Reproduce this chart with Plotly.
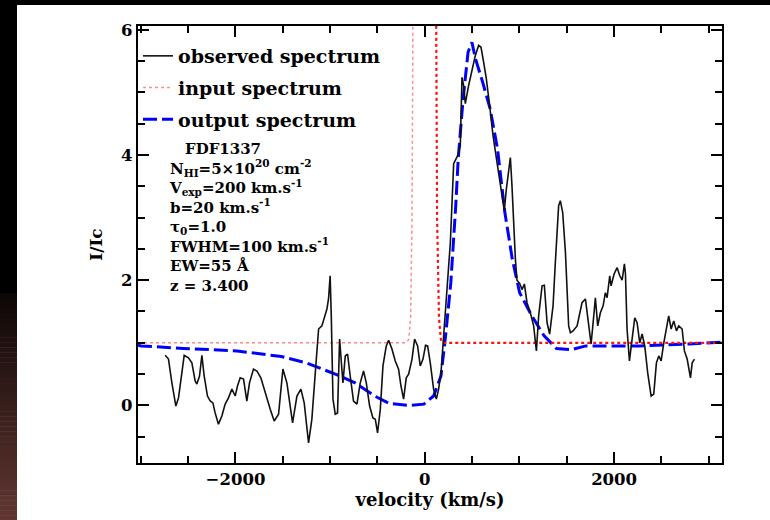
import plotly.graph_objects as go

# ---------------- data ----------------
obs_v = [-2743, -2708, -2672, -2630, -2602, -2567, -2542, -2497, -2461, -2426, -2408, -2380,
         -2355, -2331, -2296, -2267, -2239, -2215, -2180, -2144, -2109, -2074, -2038, -2003,
         -1979, -1950, -1915, -1880, -1852, -1810, -1774, -1732, -1686, -1633, -1591, -1545,
         -1499, -1457, -1397, -1351, -1309, -1274, -1228, -1193, -1157, -1122, -1087, -1052,
         -1034, -1017, -1000, -988, -970, -946, -922, -900, -883, -865, -840, -816, -788,
         -753, -717, -682, -647, -618, -583, -548, -523, -499, -470, -442, -407, -382, -347,
         -312, -277, -252, -224, -196, -171, -135, -108, -76, -48, -19, 8, 30, 58, 93, 122,
         146, 171, 199, 227, 252, 270, 305, 347, 375, 393, 410, 428, 463, 499, 534, 569, 594,
         622, 650, 685, 721, 763, 798, 840, 862, 886, 904, 921, 939, 957, 974, 1002, 1027,
         1052, 1080, 1115, 1150, 1179, 1203, 1239, 1263, 1292, 1319, 1355, 1380, 1414, 1432,
         1457, 1486, 1503, 1520, 1538, 1566, 1609, 1661, 1697, 1721, 1757, 1785, 1802, 1827,
         1855, 1884, 1908, 1926, 1954, 1968, 2000, 2032, 2060, 2085, 2109, 2120, 2137, 2162,
         2190, 2218, 2243, 2271, 2296, 2324, 2355, 2391, 2419, 2447, 2472, 2497, 2525, 2553,
         2577, 2603, 2630, 2659, 2683, 2719, 2743, 2772, 2807, 2825, 2849]
obs_f = [0.80, 0.74, 0.36, -0.01, 0.12, 0.52, 0.80, 0.76, 0.68, 0.39, 0.34, 0.47,
         0.80, 0.47, 0.15, 0.07, 0.04, -0.12, -0.30, -0.17, 0.02, 0.12, 0.26, 0.15,
         0.31, 0.44, 0.42, 0.07, 0.36, 0.58, 0.55, 0.44, 0.20, -0.06, -0.25, -0.14,
         0.58, 0.36, -0.28, 0.15, 0.26, 0.04, -0.60, -0.22, 0.52, 1.22, 1.27, 1.43,
         1.54, 1.70, 2.07, 1.43, 0.10, -0.14, -0.12, 1.06, 0.74, 0.36, 0.79, 0.82, 0.47,
         0.07, 0.02, 0.36, 0.55, 0.36, -0.01, -0.20, -0.22, -0.44, -0.06, 0.63, 0.95, 1.04, 0.90,
         0.71, 0.58, 0.31, 0.10, 0.44, 0.50, 0.74, 1.06, 0.95, 0.63, 0.74, 0.96, 0.95, 0.68, 0.26, 0.10,
         0.26, 0.52, 1.11, 1.70, 2.23, 2.60, 3.86, 3.99, 4.15, 5.24, 5.11, 4.82, 5.11, 5.38, 5.59, 5.75, 5.72,
         5.48, 5.22, 4.79, 4.31, 3.88, 3.56, 3.11, 3.46, 3.80, 3.96, 3.51, 2.87, 2.34, 2.00, 1.95, 1.85,
         1.94, 1.64, 1.48, 1.27, 0.87, 1.43, 1.91, 1.92, 1.32, 1.14, 1.59, 2.30, 3.19, 3.27,
         3.08, 2.44, 1.96, 1.27, 1.16, 1.19, 1.27, 1.64, 1.70, 1.38, 0.98, 1.43, 1.72, 1.27,
         1.48, 1.59, 1.80, 1.72, 2.07, 1.91, 2.10, 2.20, 2.07, 2.00, 2.26, 2.10, 1.22, 0.71,
         1.08, 1.40, 1.32, 1.00, 1.14, 0.95, 0.52, 0.15, 0.18, 0.68, 0.79, 0.71, 1.00, 1.27,
         1.43, 1.22, 1.35, 1.19, 1.27, 1.22, 0.87, 0.74, 0.44, 0.68, 0.74]

out_v = [-3030, -2995, -2553, -1983, -1515, -1256, -945, -737, -530, -374, -166, -10, 93, 171,
         223, 275, 327, 353, 405, 457, 498, 535, 612, 690, 768, 846, 924, 1002, 1131, 1261,
         1391, 1547, 1702, 1962, 2273, 2792, 3145]
out_f = [0.96, 0.95, 0.91, 0.87, 0.78, 0.68, 0.50, 0.36, 0.15, 0.03, 0.00, 0.02, 0.15, 0.47,
         1.16, 1.96, 3.19, 3.94, 4.90, 5.64, 5.80, 5.54, 5.16, 4.74, 4.10, 3.08, 2.34, 1.80, 1.43, 1.11,
         0.91, 0.89, 0.95, 0.95, 0.95, 0.98, 1.01]

inp_blue_v = [-3030, -200, -170, -150, -135, -120, 0]
inp_blue_f = [1.0, 1.0, 1.05, 1.4, 3.0, 8.0, 12.0]
inp_red_v = [0, 115, 130, 150, 170, 190, 3150]
inp_red_f = [12.0, 8.0, 3.0, 1.4, 1.05, 1.0, 1.0]

x_ticks = [-2000, 0, 2000]
y_ticks = [0, 2, 4, 6]

info_lines = ["\u2002\u2002FDF1337",
              "N<sub>HI</sub>=5×10<sup>20</sup> cm<sup>-2</sup>",
              "V<sub>exp</sub>=200 km.s<sup>-1</sup>",
              "b=20 km.s<sup>-1</sup>",
              "τ<sub>0</sub>=1.0",
              "FWHM=100 km.s<sup>-1</sup>",
              "EW=55 Å",
              "z = 3.400"]

# ---------------- layout geometry ----------------
W, H = 770, 520
L, R, T, B = 138, 48, 26, 57
PW, PH = W - L - R, H - T - B


def px2x(px):
    return (px - L) / PW


def py2y(py):
    return (H - B - py) / PH


FONT = "DejaVu Serif"

fig = go.Figure()
fig.add_trace(go.Scatter(x=out_v, y=out_f, mode="lines", name="output spectrum",
                         line=dict(color="#0000ff", width=3, dash="14px,5px"),
                         legendgroup="c", legendrank=3))
fig.add_trace(go.Scatter(x=inp_blue_v, y=inp_blue_f, mode="lines", name="input spectrum",
                         line=dict(color="#ff8c8c", width=1.5, dash="dot"),
                         legendgroup="b", legendrank=2))
fig.add_trace(go.Scatter(x=inp_red_v, y=inp_red_f, mode="lines", name="input spectrum",
                         line=dict(color="#ff1010", width=2.2, dash="dot"),
                         legendgroup="b", showlegend=False))
fig.add_trace(go.Scatter(x=obs_v, y=obs_f, mode="lines", name="observed spectrum",
                         line=dict(color="#111111", width=1.6),
                         legendgroup="a", legendrank=1))

# background: black top strip, left strip with dark-red gradient
shapes = []
shapes.append(dict(type="rect", xref="paper", yref="paper", x0=px2x(0), x1=px2x(W),
                   y0=py2y(5), y1=py2y(0), fillcolor="black", line_width=0, layer="below"))
shapes.append(dict(type="rect", xref="paper", yref="paper", x0=px2x(0), x1=px2x(17),
                   y0=py2y(293), y1=py2y(0), fillcolor="black", line_width=0, layer="below"))
c0, c1 = (12, 6, 6), (98, 55, 50)
n = 46
for i in range(n):
    ya = 293 + (520 - 293) * i / n
    yb = 293 + (520 - 293) * (i + 1) / n
    f = (i + 0.5) / n
    col = "rgb(%d,%d,%d)" % tuple(round(a + (b - a) * f) for a, b in zip(c0, c1))
    shapes.append(dict(type="rect", xref="paper", yref="paper", x0=px2x(0), x1=px2x(17),
                       y0=py2y(yb + 0.5), y1=py2y(ya), fillcolor=col, line_width=0, layer="below"))

annotations = [dict(text="<br>".join(info_lines), xref="paper", yref="paper",
                    x=px2x(167), y=py2y(217), xanchor="left", yanchor="middle", align="left",
                    showarrow=False,
                    font=dict(family=FONT, size=15, color="black", weight="bold"))]

axis_common = dict(showline=True, linewidth=2.2, linecolor="black", mirror="ticks",
                   ticks="inside", ticklen=11, tickwidth=1.8, tickcolor="black",
                   showgrid=False, zeroline=False,
                   tickfont=dict(family=FONT, size=16.5, color="black", weight="bold"),
                   minor=dict(ticks="inside", ticklen=7, tickwidth=1.5, tickcolor="black",
                              showgrid=False))

fig.update_layout(
    width=W, height=H,
    margin=dict(l=L, r=R, t=T, b=B),
    paper_bgcolor="white", plot_bgcolor="white",
    showlegend=True,
    legend=dict(x=0, y=py2y(37), xanchor="left", yanchor="top", bgcolor="rgba(0,0,0,0)",
                font=dict(family=FONT, size=19, color="black", weight="bold"),
                itemwidth=30, tracegroupgap=4, traceorder="grouped"),
    xaxis=dict(range=[-3030, 3140], tickvals=x_ticks, title=dict(
        text="velocity (km/s)", font=dict(family=FONT, size=18, color="black", weight="bold"),
        standoff=4), **{**axis_common, "minor": {**axis_common["minor"], "dtick": 500, "tick0": 0}}),
    yaxis=dict(range=[-0.92, 6.06], tickvals=y_ticks, title=dict(
        text="I/Ic", font=dict(family=FONT, size=17, color="black", weight="bold"),
        standoff=14), **{**axis_common, "minor": {**axis_common["minor"], "dtick": 0.5, "tick0": 0}}),
    shapes=shapes,
    annotations=annotations,
)

fig.write_html("out.html")
